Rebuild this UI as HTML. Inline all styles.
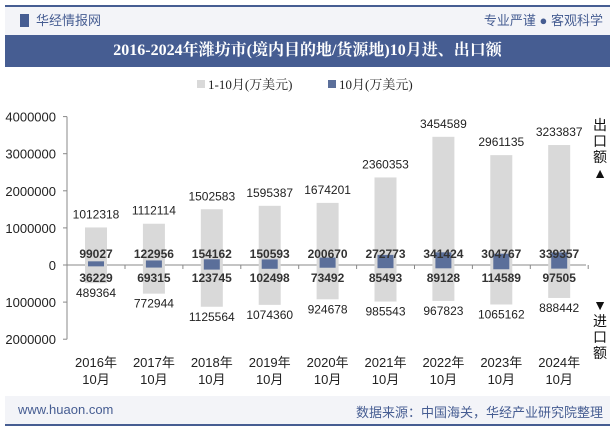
<!DOCTYPE html>
<html><head><meta charset="utf-8"><style>
body{margin:0;width:615px;height:427px;background:#fff;overflow:hidden;font-family:"Liberation Sans","Noto Sans CJK SC",sans-serif;position:relative}
.abs{position:absolute}
</style></head><body>
<div class="abs" style="left:5px;top:5px;width:605px;height:28px;background:#f3f4f8;border-top:2px solid #465d92"></div>
<div class="abs" style="left:20px;top:14px;width:9px;height:13px;background:#465d92"></div>
<div class="abs" style="left:36px;top:10px;font-size:13px;color:#465d92">华经情报网</div>
<div class="abs" style="right:12px;top:10px;font-size:13px;color:#465d92">专业严谨 ● 客观科学</div>
<div class="abs" style="left:5px;top:35px;width:605px;height:32px;background:#465d92;color:#fff;font:bold 16px 'Liberation Serif','Noto Serif CJK SC',serif;text-align:center;line-height:32px">2016-2024年潍坊市(境内目的地/货源地)10月进、出口额</div>
<svg class="abs" style="left:0;top:0" width="615" height="427" id="chart"></svg>
<div class="abs" style="left:5px;top:396px;width:605px;height:28px;background:#f3f4f8;border-bottom:2px solid #465d92"></div>
<div class="abs" style="left:18px;top:402px;font-size:13px;color:#465d92">www.huaon.com</div>
<div class="abs" style="right:12px;top:402px;font-size:13px;color:#465d92">数据来源：中国海关，华经产业研究院整理</div>
<script>
const categories=["2016年","2017年","2018年","2019年","2020年","2021年","2022年","2023年","2024年"];
const exportYTD=[1012318,1112114,1502583,1595387,1674201,2360353,3454589,2961135,3233837];
const exportMonth=[99027,122956,154162,150593,200670,272773,341424,304767,339357];
const importYTD=[489364,772944,1125564,1074360,924678,985543,967823,1065162,888442];
const importMonth=[36229,69315,123745,102498,73492,85493,89128,114589,97505];
const ticks=[4000000,3000000,2000000,1000000,0,-1000000,-2000000];
const NS="http://www.w3.org/2000/svg",svg=document.getElementById('chart');
const y=v=>265-v*37.1/1000000, x=i=>96+i*57.9;
function el(t,a,txt){const e=document.createElementNS(NS,t);for(const k in a)e.setAttribute(k,a[k]);if(txt!=null)e.textContent=txt;svg.appendChild(e);return e;}
let e;
e=el('line',{x1:67,x2:67,y1:y(4000000),y2:y(-2000000),stroke:'#888'});

ticks.forEach(t=>{e=el('text',{x:56,y:y(t)+5,'text-anchor':'end','font-size':13,fill:'#222'},t<0?String(-t):String(t));

el('line',{x1:63,x2:67,y1:y(t),y2:y(t),stroke:'#888'});});
e=el('line',{x1:67,x2:586,y1:265,y2:265,stroke:'#888'});

categories.forEach((c,i)=>{const cx=x(i);
e=el('rect',{x:cx-11,y:y(exportYTD[i]),width:22,height:265-y(exportYTD[i]),fill:'#d9d9d9'});

e=el('rect',{x:cx-11,y:265,width:22,height:y(-importYTD[i])-265,fill:'#d9d9d9'});

e=el('rect',{x:cx-8,y:y(exportMonth[i]),width:16,height:265-y(exportMonth[i]),fill:'#5b6f9a'});

e=el('rect',{x:cx-8,y:265,width:16,height:y(-importMonth[i])-265,fill:'#5b6f9a'});

el('line',{x1:cx+29,x2:cx+29,y1:265,y2:269,stroke:'#888'});
e=el('text',{x:cx,y:y(exportYTD[i])-9,'text-anchor':'middle','font-size':12,fill:'#222'},exportYTD[i]);

e=el('text',{x:cx,y:y(-importYTD[i])+14,'text-anchor':'middle','font-size':12,fill:'#222'},importYTD[i]);

e=el('text',{x:cx,y:258,'text-anchor':'middle','font-size':12,'font-weight':'bold',fill:'#333'},exportMonth[i]);

e=el('text',{x:cx,y:282,'text-anchor':'middle','font-size':12,'font-weight':'bold',fill:'#333'},importMonth[i]);

e=el('text',{x:cx,y:367,'text-anchor':'middle','font-size':13,fill:'#222'},c);

e=el('text',{x:cx,y:384,'text-anchor':'middle','font-size':13,fill:'#222'},'10月');

});
const lf="'Liberation Serif','Noto Serif CJK SC',serif";
e=el('rect',{x:197,y:80,width:8,height:8,fill:'#d9d9d9'});
e=el('text',{x:208,y:89,'font-size':13,'font-family':lf,fill:'#222'},'1-10月(万美元)');
e=el('rect',{x:328,y:80,width:8,height:8,fill:'#5b6f9a'});
e=el('text',{x:339,y:89,'font-size':13,'font-family':lf,fill:'#222'},'10月(万美元)');
['出','口','额','▲'].forEach((t,k)=>{e=el('text',{x:600,y:130+k*16,'text-anchor':'middle','font-size':14,fill:'#111'},t);});
['▼','进','口','额'].forEach((t,k)=>{e=el('text',{x:600,y:310+k*16,'text-anchor':'middle','font-size':14,fill:'#111'},t);});
</script>
</body></html>
